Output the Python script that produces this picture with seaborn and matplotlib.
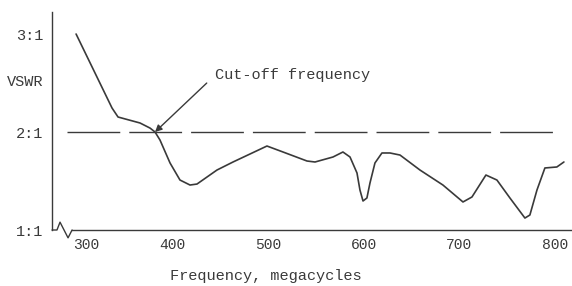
import matplotlib
matplotlib.use("Agg")
import matplotlib.pyplot as plt
import matplotlib.transforms as mtransforms
import seaborn as sns
import pandas as pd

# ---- data ----
freq = [299, 336.6, 342.9, 365.9, 376.4, 381.6, 386.8, 397.3, 407.7, 418.2,
        425.5, 446.4, 463.2, 498.7, 515.5, 540.6, 549.0, 567.8, 578.2, 585.6,
        592.9, 596.0, 599.2, 603.3, 606.5, 611.7, 619.0, 627.4, 637.9, 658.8,
        682.8, 703.8, 713.2, 727.8, 739.3, 752.9, 768.6, 773.8, 781.2, 789.5,
        802.0, 809.4]
vswr = [3.00, 2.245, 2.153, 2.092, 2.04, 2.00, 1.918, 1.684, 1.51, 1.459,
        1.469, 1.612, 1.694, 1.857, 1.796, 1.704, 1.694, 1.745, 1.796, 1.745,
        1.582, 1.408, 1.296, 1.327, 1.48, 1.684, 1.786, 1.786, 1.765, 1.612,
        1.459, 1.286, 1.337, 1.561, 1.51, 1.327, 1.122, 1.153, 1.408, 1.633,
        1.643, 1.694]
ref_x = [289.5, 797.9]
ref_y = [2.0, 2.0]
cutoff = (381.6, 2.0)
x_ticks = [300, 400, 500, 600, 700, 800]
x_ticklabels = ["300", "400", "500", "600", "700", "800"]
y_ticks = [1, 2, 3]
y_ticklabels = ["1:1", "2:1", "3:1"]

sns.set_theme(style="white")
plt.rcParams["font.family"] = ["Liberation Mono", "DejaVu Sans Mono"]

ink = "#3a3a3a"
fig = plt.figure(figsize=(5.72, 2.86), dpi=100)
fig.patch.set_facecolor("white")
ax = fig.add_axes([0.0909, 0.1958, 0.909, 0.762])
ax.set_facecolor("white")

df = pd.DataFrame({"Frequency": freq, "VSWR": vswr})
sns.lineplot(data=df, x="Frequency", y="VSWR", ax=ax, color=ink, lw=1.2,
             sort=False, estimator=None)
ax.plot(ref_x, ref_y, color=ink, lw=1.0, dashes=(38, 6.5))

ax.set_xlim(273.8, 817.8)
ax.set_ylim(1.0, 3.224)

ax.set_xticks(x_ticks)
ax.set_xticklabels(x_ticklabels, fontsize=10.5, color=ink)
ax.set_yticks(y_ticks)
ax.set_yticklabels(y_ticklabels, fontsize=11, color=ink)
ax.tick_params(axis="both", direction="in", length=3, width=0.8, color=ink)
ax.tick_params(axis="x", pad=6)
ax.tick_params(axis="y", pad=6.5)
# first x label shifted right as in the original
lbl = ax.get_xticklabels()[0]
lbl.set_transform(lbl.get_transform() + mtransforms.ScaledTranslation(9/100, 0, fig.dpi_scale_trans))

ax.set_xlabel("")
ax.set_ylabel("")
for s in ["top", "right"]:
    ax.spines[s].set_visible(False)
for s in ["left", "bottom"]:
    ax.spines[s].set_color(ink)
    ax.spines[s].set_linewidth(1.0)
ax.spines["bottom"].set_bounds(294.8, 817.8)

# axis break symbol
ax.plot([273.8, 279.0, 282.2, 290.6, 294.8], [1.0, 1.0, 1.08, 0.92, 1.0],
        color=ink, lw=1.0, clip_on=False)

# VSWR label
ax.text(-9/519, 2.51, "VSWR", transform=ax.get_yaxis_transform(),
        ha="right", va="center", fontsize=11, color=ink)

# x axis label
ax.text(498, -0.21, "Frequency, megacycles", transform=ax.get_xaxis_transform(),
        ha="center", va="center", fontsize=11, color=ink)

ax.annotate("Cut-off frequency", xy=cutoff, xytext=(444.4, 2.58),
            ha="left", va="center", fontsize=11, color=ink,
            arrowprops=dict(arrowstyle="-|>", color=ink, lw=1.0,
                            relpos=(0, 0.5), shrinkA=5, shrinkB=0,
                            mutation_scale=10))

fig.savefig("out.png", dpi=100, facecolor="white")
